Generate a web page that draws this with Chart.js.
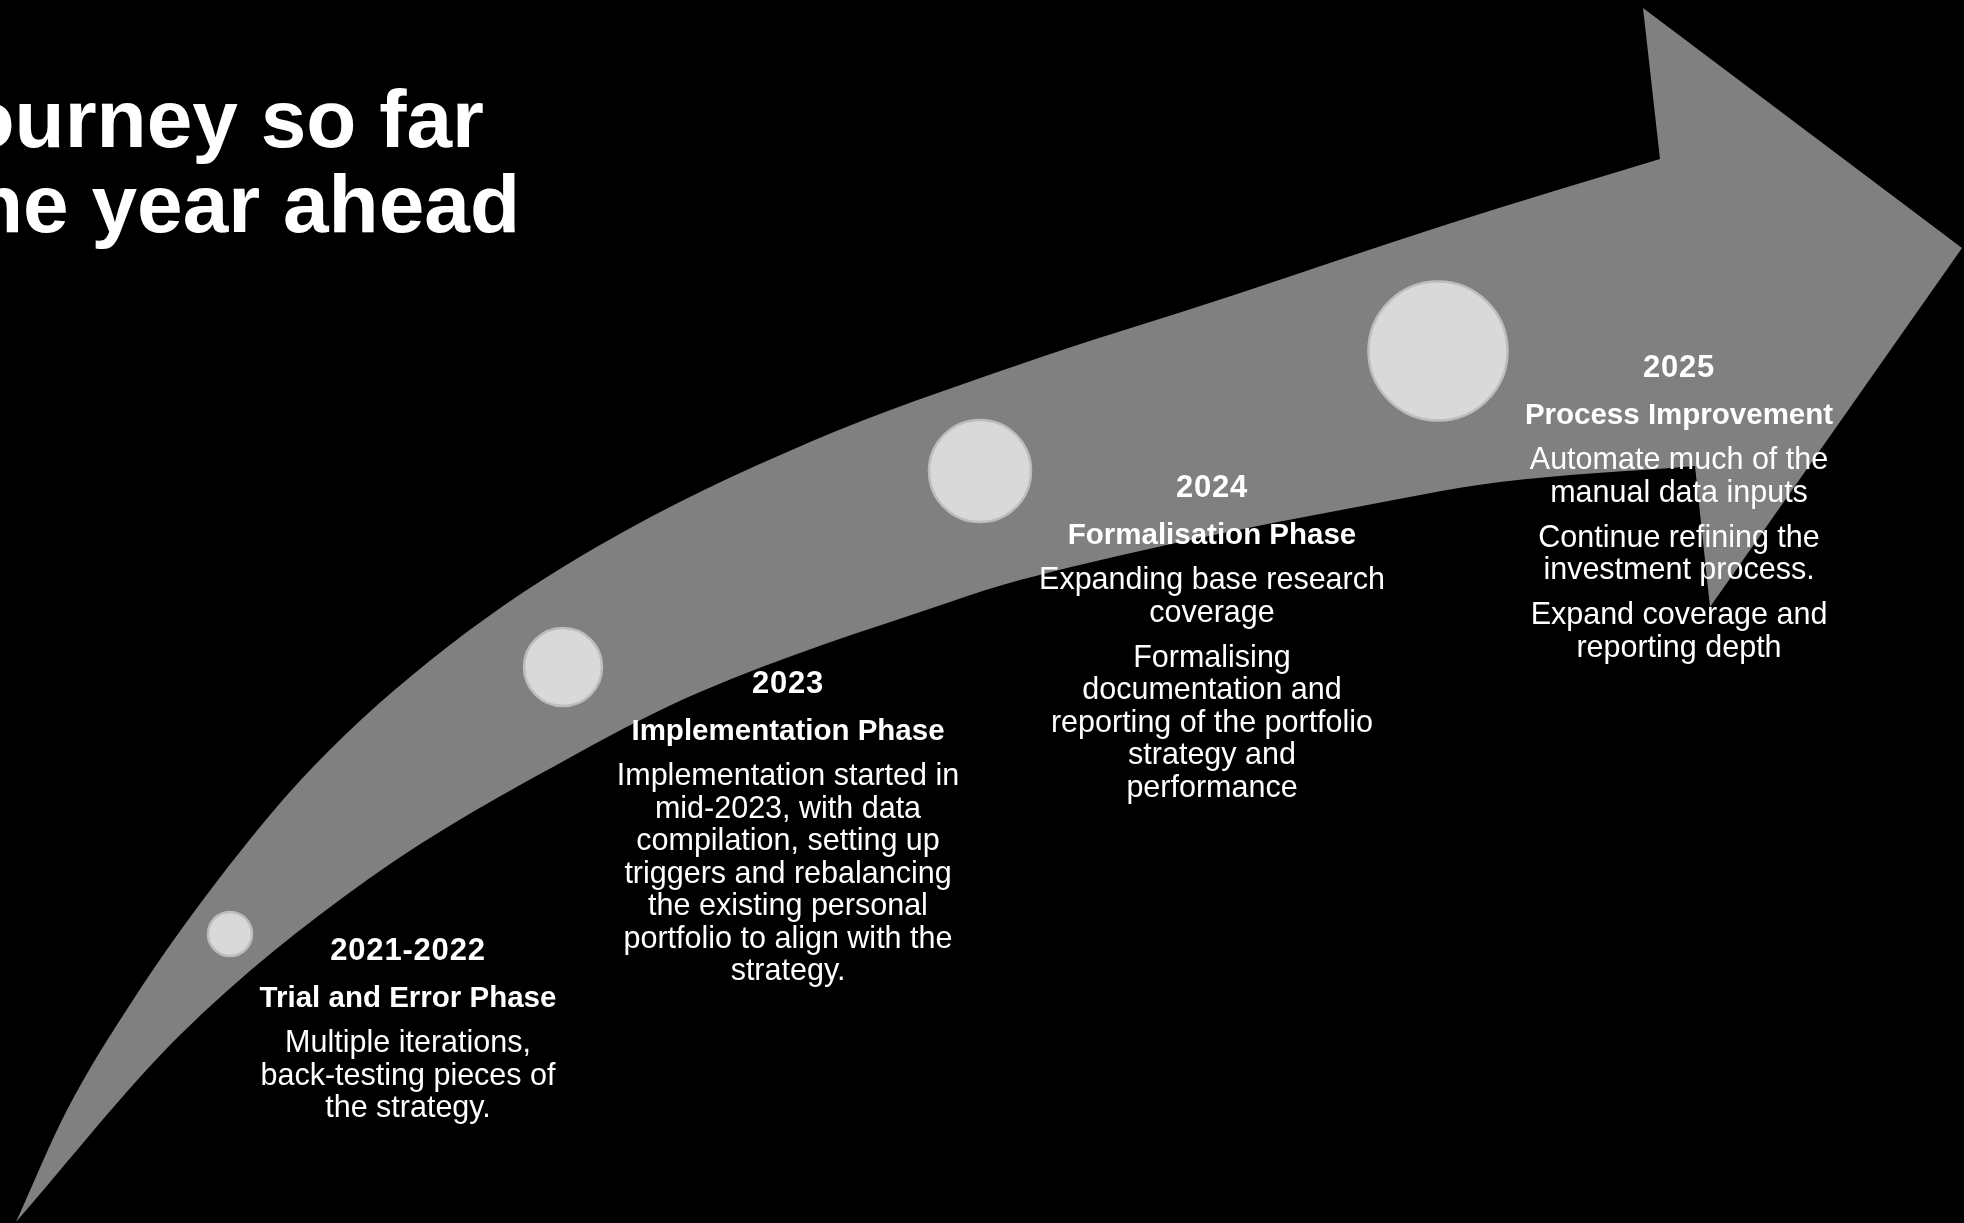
<!DOCTYPE html>
<html>
<head>
<meta charset="utf-8">
<title>Journey timeline</title>
<script src="https://cdn.jsdelivr.net/npm/chart.js@4.4.1/dist/chart.umd.min.js"></script>
<style>
  html, body { margin: 0; padding: 0; background: #000; overflow: hidden; }
  canvas { display: block; }
</style>
</head>
<body>
<canvas id="journey" width="1964" height="1223"></canvas>
<script>
// Timeline content
var titleLines = ['journey so far', 'the year ahead'];
var phaseYears = ['2021-2022', '2023', '2024', '2025'];
var phaseNames = ['Trial and Error Phase', 'Implementation Phase', 'Formalisation Phase', 'Process Improvement'];
var phaseNotes = [
    [['Multiple iterations,', 'back-testing pieces of', 'the strategy.']],
    [['Implementation started in', 'mid-2023, with data', 'compilation, setting up', 'triggers and rebalancing', 'the existing personal', 'portfolio to align with the', 'strategy.']],
    [['Expanding base research', 'coverage'], ['Formalising', 'documentation and', 'reporting of the portfolio', 'strategy and', 'performance']],
    [['Automate much of the', 'manual data inputs'], ['Continue refining the', 'investment process.'], ['Expand coverage and', 'reporting depth']]
];

// milestone markers along the arrow
var milestoneX = [230, 563, 980, 1438];
var milestoneY = [934, 667, 471, 351];

// arrow body edges and head
var upperEdgeX = [16, 67, 133, 218, 312, 446, 600, 810, 1021, 1231, 1442, 1660, 1700];
var upperEdgeY = [1222, 1110, 1000, 880, 768, 648, 545, 442, 364, 296, 226, 159, 147];
var lowerEdgeX = [16, 180, 367, 580, 700, 950, 1020, 1420, 1500, 1695];
var lowerEdgeY = [1222, 1035, 880, 752, 692, 602, 580, 495, 482, 466];
var headX = [1660, 1643, 1962, 1710, 1695];
var headY = [159, 8, 248, 607, 466];

function toPoints(xs, ys) {
    return xs.map(function (x, i) { return { x: x, y: ys[i] }; });
}

var ARROW_GREY = '#808080';
var FONT = '"Liberation Sans", Arial, Helvetica, sans-serif';

// heading and the text next to every milestone
var timelineText = {
    id: 'timelineText',
    afterDatasetsDraw: function (chart, args, opts) {
        var ctx = chart.ctx;
        var xs = chart.scales.x;
        var ys = chart.scales.y;
        ctx.save();
        ctx.fillStyle = '#ffffff';
        ctx.textBaseline = 'alphabetic';

        ctx.textAlign = 'right';
        ctx.font = 'bold 82px ' + FONT;
        ctx.fillText(titleLines[0], 484, 147);
        ctx.fillText(titleLines[1], 520, 232);

        ctx.textAlign = 'center';
        phaseYears.forEach(function (year, i) {
            var cx = xs.getPixelForValue(milestoneX[i]) + opts.labelShift[i];
            var y = ys.getPixelForValue(milestoneY[i]) + 26;

            ctx.font = 'bold 31px ' + FONT;
            ctx.letterSpacing = '0.8px';
            ctx.fillText(year, cx, y);
            ctx.letterSpacing = '0px';

            ctx.font = 'bold 29.5px ' + FONT;
            ctx.fillText(phaseNames[i], cx, y + 46.5);

            ctx.font = '30.5px ' + FONT;
            var ly = y + 92;
            phaseNotes[i].forEach(function (para, p) {
                if (p > 0) ly += 12.5; // gap between paragraphs
                para.forEach(function (line) {
                    ctx.fillText(line, cx, ly);
                    ly += 32.5;
                });
            });
        });
        ctx.restore();
    }
};

var journeyCtx = document.getElementById('journey').getContext('2d');

var journeyChart = new Chart(journeyCtx, {
    type: 'line',
    data: {
        datasets: [{
            label: 'Milestones',
            data: toPoints(milestoneX, milestoneY),
            showLine: false,
            pointRadius: [22, 39, 51, 69.5],
            pointBackgroundColor: '#d9d9d9',
            pointBorderColor: '#bdbdbd',
            pointBorderWidth: 2.5,
            order: 0
        }, {
            label: 'Arrow head',
            data: toPoints(headX, headY),
            showLine: true,
            fill: 'shape',
            backgroundColor: ARROW_GREY,
            borderWidth: 0,
            pointRadius: 0,
            tension: 0,
            order: 1
        }, {
            label: 'Arrow upper edge',
            data: toPoints(upperEdgeX, upperEdgeY),
            showLine: true,
            fill: '+1',
            backgroundColor: ARROW_GREY,
            borderWidth: 0,
            pointRadius: 0,
            cubicInterpolationMode: 'monotone',
            order: 2
        }, {
            label: 'Arrow lower edge',
            data: toPoints(lowerEdgeX, lowerEdgeY),
            showLine: true,
            fill: false,
            borderWidth: 0,
            pointRadius: 0,
            cubicInterpolationMode: 'monotone',
            order: 3
        }]
    },
    options: {
        responsive: false,
        animation: false,
        devicePixelRatio: 1,
        events: [],
        layout: { padding: 0, autoPadding: false },
        scales: {
            x: { type: 'linear', min: 0, max: 1964, display: false },
            y: { type: 'linear', min: 0, max: 1223, reverse: true, display: false }
        },
        plugins: {
            legend: { display: false },
            tooltip: { enabled: false },
            timelineText: { labelShift: [178, 225, 232, 241] }
        }
    },
    plugins: [timelineText]
});
</script>
</body>
</html>
